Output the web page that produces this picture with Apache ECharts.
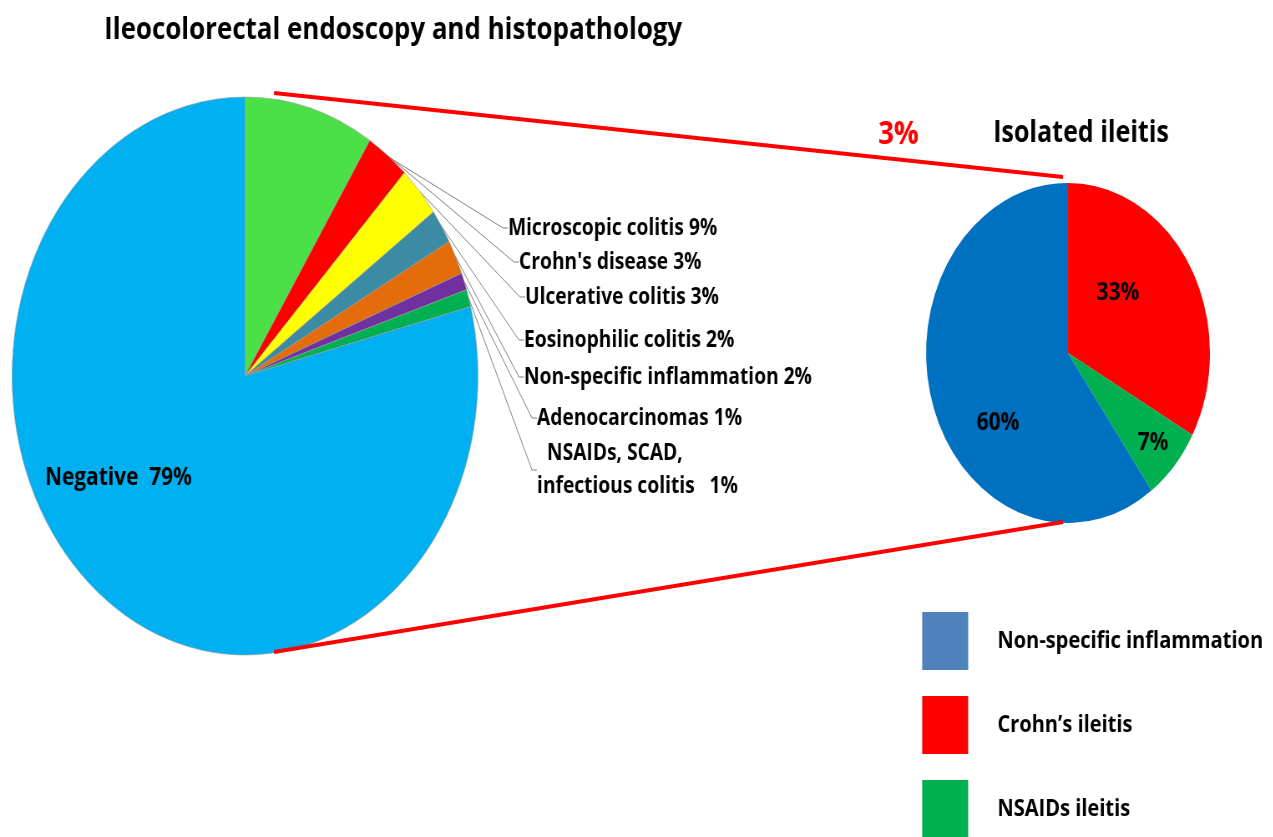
<!DOCTYPE html>
<html>
<head>
<meta charset="utf-8">
<script src="https://cdn.jsdelivr.net/npm/echarts@6/dist/echarts.min.js"></script>
<style>
html,body{margin:0;padding:0;overflow:hidden;background:#fff;}
#wrap{width:1525px;height:837px;transform:scaleX(0.835);transform-origin:0 0;}
#main{width:1525px;height:837px;}
</style>
</head>
<body>
<div id="wrap"><div id="main"></div></div>
<script>
// Left pie: all patients
const leftNames = ['Microscopic colitis', "Crohn's disease", 'Ulcerative colitis', 'Eosinophilic colitis',
  'Non-specific inflammation ', 'Adenocarcinomas', 'NSAIDs, SCAD, infectious colitis', 'Negative'];
const leftValues = [9, 3, 3, 2, 2, 1, 1, 79];
const leftLabels = ['Microscopic colitis 9%', "Crohn's disease 3%", 'Ulcerative colitis 3%', 'Eosinophilic colitis 2%',
  'Non-specific inflammation 2%', 'Adenocarcinomas 1%', '  NSAIDs, SCAD,\ninfectious colitis   1%', 'Negative  79%'];
const leftColors = ['#4CE048', '#FF0000', '#FFFF00', '#3A8BA3', '#E46C0A', '#7030A0', '#00B050', '#00B0F0'];

// Right pie: isolated ileitis
const rightNames = ["Crohn\u2019s ileitis", 'NSAIDs ileitis', 'Non-specific inflammation'];
const rightValues = [33, 7, 60];
const rightLabels = ['33%', '7%', '60%'];
const rightColors = ['#FF0000', '#00B050', '#0070C0'];

const legendNames = ['Non-specific inflammation', "Crohn\u2019s ileitis", 'NSAIDs ileitis'];
const legendColors = ['#4F81BD', '#FF0000', '#00B050'];

const S = 0.835;
const px = x => x / S; // convert on-screen x to pre-scale x

// label anchor positions (on-screen)
const leftLabelPos = [[508, 228], [519, 262], [525, 297], [524, 340], [524, 377], [537, 418], [537, 470], [45, 478]];
const rightLabelPos = [[1118, 293], [1153, 443], [998, 423]];

const FONT = 'Open Sans';
const chart = echarts.init(document.getElementById('main'), null, {renderer: 'canvas'});

const option = {
  animation: false,
  title: [
    {text: 'Ileocolorectal endoscopy and histopathology', left: px(100), top: 10,
     textStyle: {fontFamily: FONT, fontWeight: 'bold', fontSize: 31, color: '#000'}},
    {text: '3%', left: px(874), top: 113,
     textStyle: {fontFamily: FONT, fontWeight: 'bold', fontSize: 33, color: '#FF0000'}},
    {text: 'Isolated ileitis', left: px(989), top: 113,
     textStyle: {fontFamily: FONT, fontWeight: 'bold', fontSize: 30, color: '#000'}}
  ],
  legend: {
    orient: 'vertical', left: px(918), top: 607, height: 300,
    itemWidth: px(968) - px(922), itemHeight: 58, itemGap: 26, icon: 'rect',
    selectedMode: false,
    textStyle: {fontFamily: FONT, fontWeight: 'bold', fontSize: 24, color: '#000', padding: [0, 0, 0, 30]},
    data: legendNames.map((n, i) => ({name: n, itemStyle: {color: legendColors[i], borderWidth: 0}}))
  },
  graphic: [
    {type: 'line', shape: {x1: px(274), y1: 93, x2: px(1063), y2: 177}, style: {stroke: '#FF0000', lineWidth: 4}, z: 10},
    {type: 'line', shape: {x1: px(274), y1: 652, x2: px(1063), y2: 522}, style: {stroke: '#FF0000', lineWidth: 4}, z: 10}
  ],
  series: [
    {
      type: 'pie', name: 'all', center: [px(245), 376], radius: 279,
      startAngle: 90, clockwise: true, avoidLabelOverlap: false,
      itemStyle: {borderColor: '#9a9a9a', borderWidth: 0.6},
      label: {show: true, position: 'outside', fontFamily: FONT, fontWeight: 'bold', fontSize: 23, color: '#000', lineHeight: 33,
        formatter: p => leftLabels[p.dataIndex]},
      labelLine: {show: true, length: 20, length2: 6, lineStyle: {color: '#7f7f7f', width: 1}},
      labelLayout: p => {
        const pos = leftLabelPos[p.dataIndex];
        return {x: px(pos[0]), y: pos[1], align: 'left', verticalAlign: 'middle'};
      },
      data: leftNames.map((n, i) => {
        const d = {name: n, value: leftValues[i], itemStyle: {color: leftColors[i]}};
        if (i === leftNames.length - 1) {
          d.label = {position: 'inside', fontSize: 25};
          d.labelLine = {show: false};
        }
        return d;
      })
    },
    {
      type: 'pie', name: 'ileitis', center: [px(1068), 353], radius: 170,
      startAngle: 90, clockwise: true, avoidLabelOverlap: false,
      label: {show: true, position: 'inside', fontFamily: FONT, fontWeight: 'bold', fontSize: 25, color: '#000',
        formatter: p => rightLabels[p.dataIndex]},
      labelLine: {show: false},
      labelLayout: p => {
        const pos = rightLabelPos[p.dataIndex];
        return {x: px(pos[0]), y: pos[1], align: 'center', verticalAlign: 'middle'};
      },
      data: rightNames.map((n, i) => ({name: n, value: rightValues[i], itemStyle: {color: rightColors[i]}}))
    }
  ]
};
chart.setOption(option);
</script>
</body>
</html>
